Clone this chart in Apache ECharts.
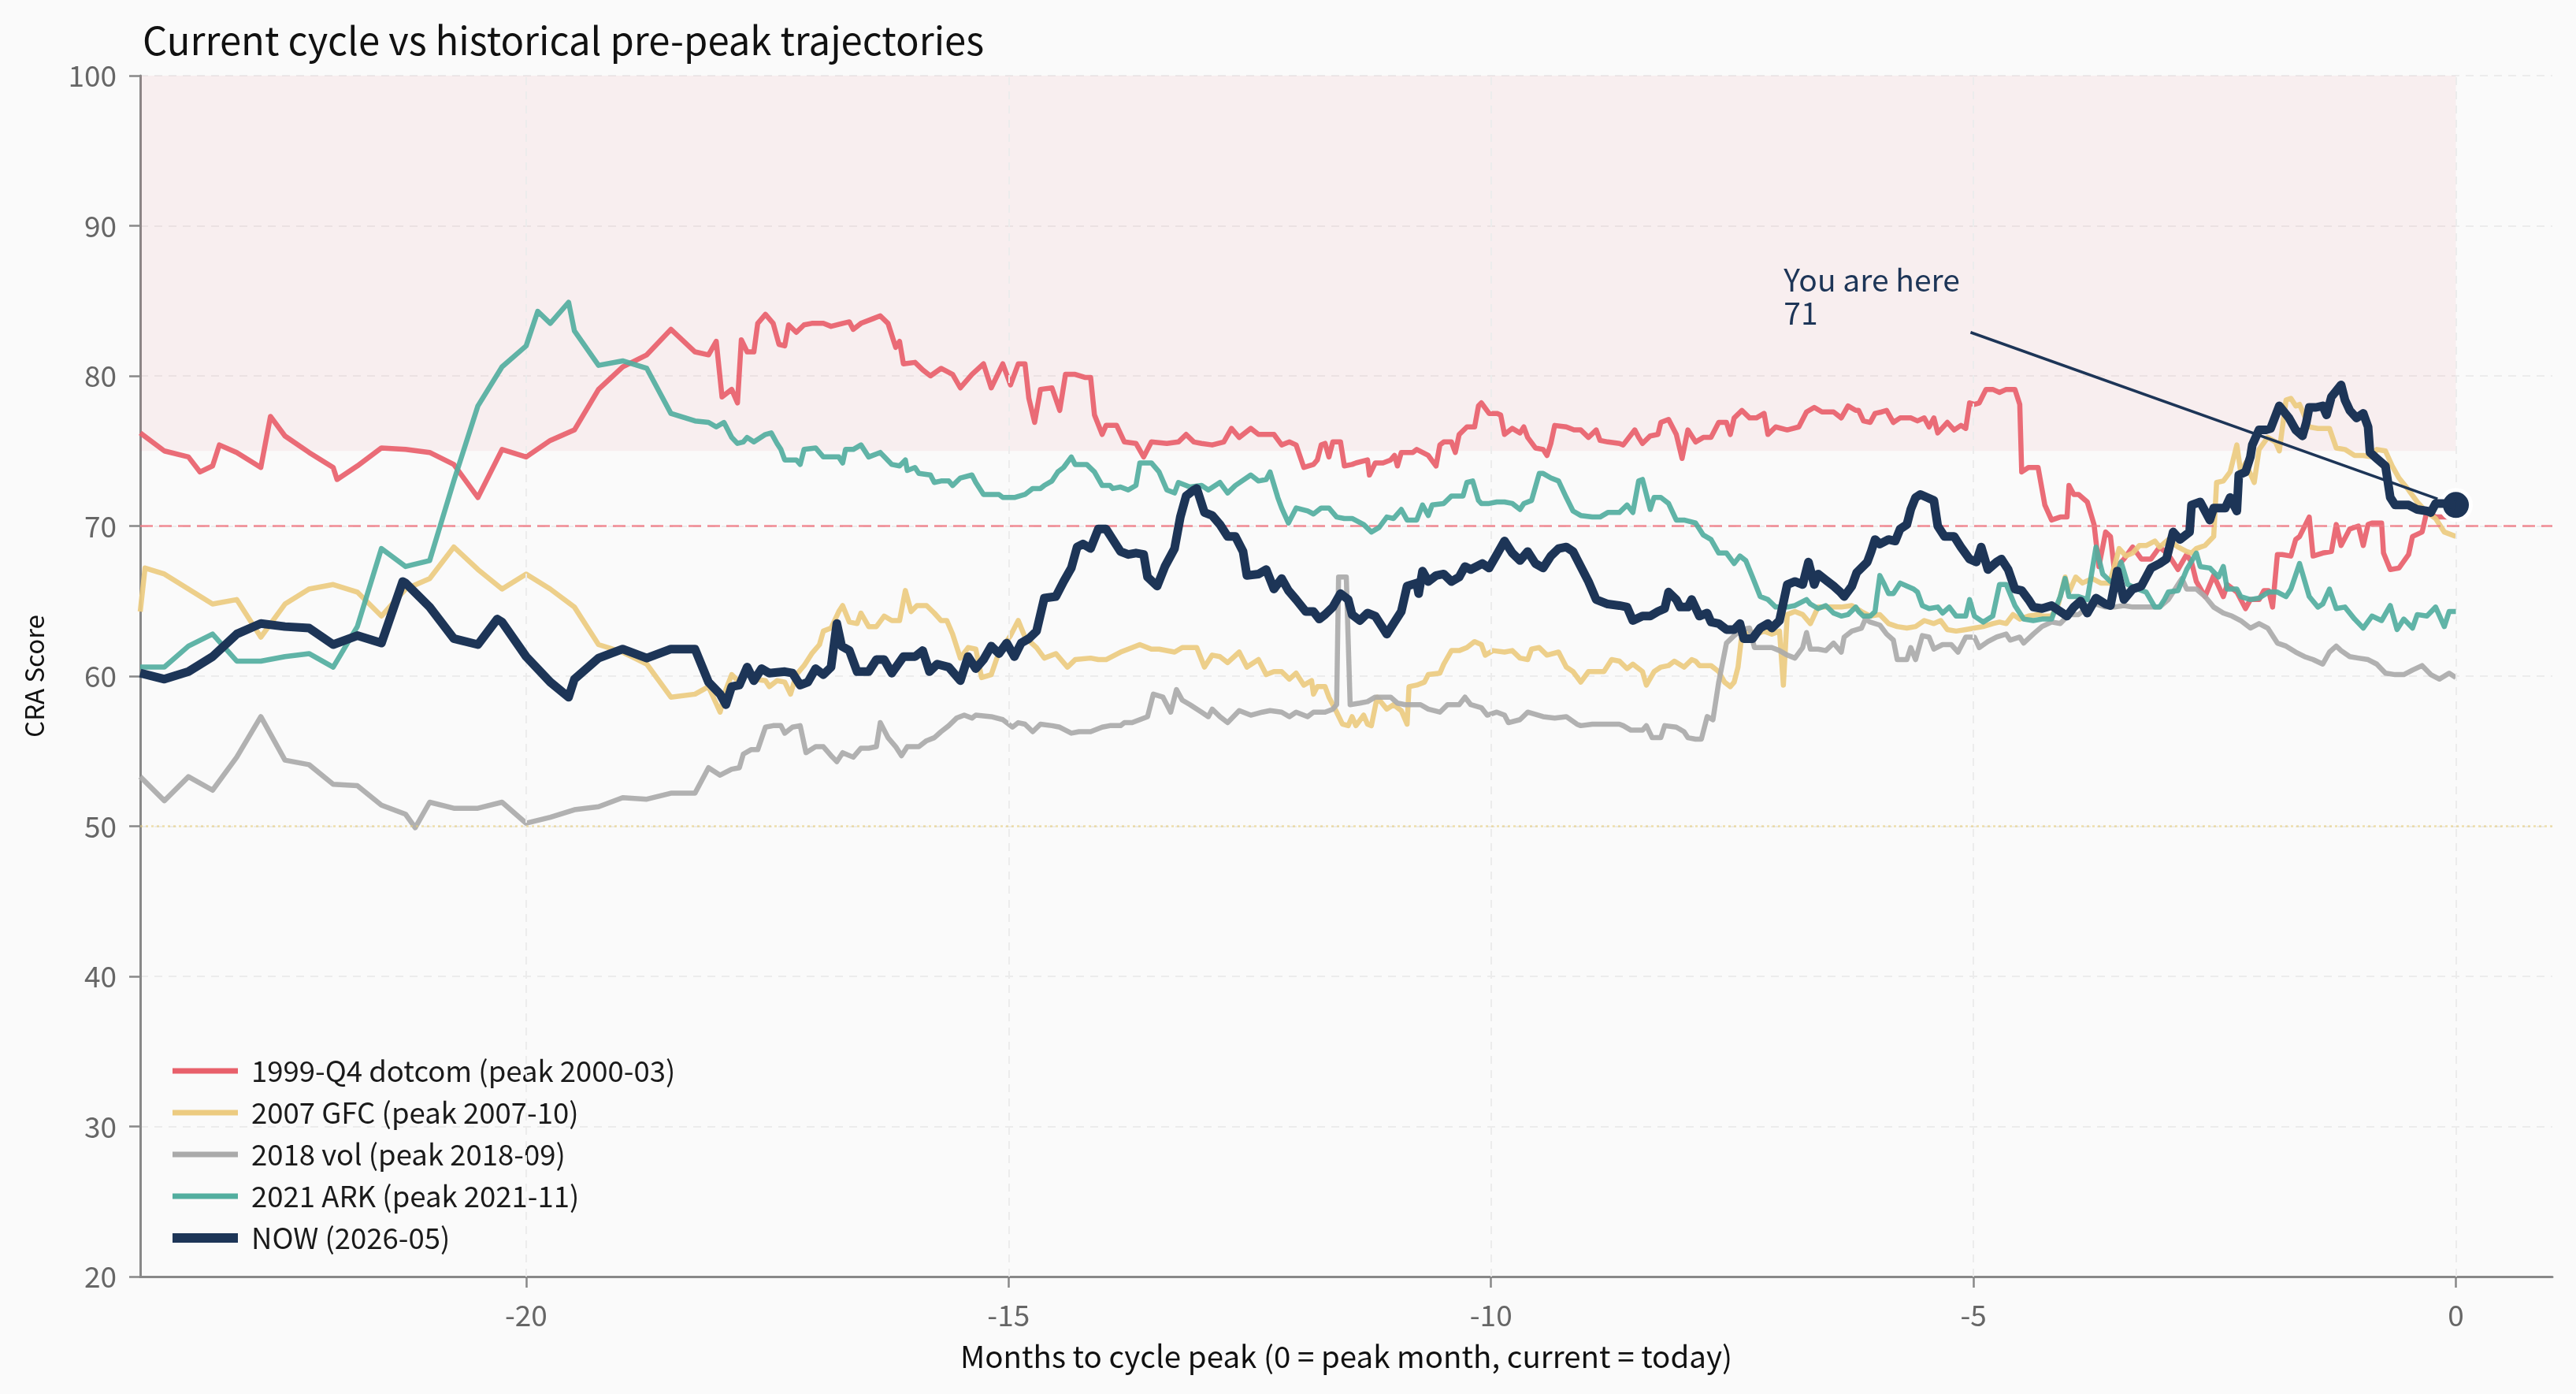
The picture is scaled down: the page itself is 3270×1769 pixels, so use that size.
<!DOCTYPE html>
<html>
<head>
<meta charset="utf-8">
<script src="https://cdn.jsdelivr.net/npm/echarts@6/dist/echarts.min.js"></script>
<style>
html,body{margin:0;padding:0;background:#fafafa;}
#c{width:3270px;height:1769px;}
</style>
</head>
<body>
<div id="c"></div>
<script>
// ---------- DATA ----------
// Early section read at quarter-month spacing (months to cycle peak)
const EARLY_MONTHS = [-24,-23.75,-23.5,-23.25,-23,-22.75,-22.5,-22.25,-22,-21.75,-21.5,-21.25,-21,-20.75,-20.5,-20.25,
  -20,-19.75,-19.5,-19.25,-19,-18.75,-18.5,-18.25];

const DOTCOM_EARLY = [76.2,75.0,74.6,74.0,74.9,73.9,76.0,74.9,73.9,74.0,75.2,75.1,74.9,74.1,71.9,75.1,
  74.6,75.7,76.4,79.1,80.6,81.4,83.1,81.6];
const DOTCOM_TRACE = [[-23.38,73.6],[-23.18,75.4],[-22.65,77.3],[-21.96,73.1],
  [-18.11,81.4],[-18.03,82.3],[-17.97,78.6],[-17.87,79.1],[-17.81,78.2],[-17.77,82.4],[-17.71,81.6],[-17.64,81.6],
  [-17.6,83.5],[-17.52,84.1],[-17.44,83.5],[-17.38,82.1],[-17.32,82.0],[-17.28,83.4],[-17.2,82.9],[-17.12,83.4],
  [-17.04,83.5],[-16.92,83.5],[-16.84,83.3],[-16.72,83.5],[-16.65,83.6],[-16.61,83.1],[-16.53,83.5],[-16.41,83.8],
  [-16.33,84.0],[-16.25,83.5],[-16.17,81.9],[-16.13,82.3],[-16.09,80.8],[-15.97,80.9],[-15.89,80.4],[-15.81,80.0],
  [-15.7,80.5],[-15.58,80.1],[-15.5,79.2],[-15.38,80.1],[-15.26,80.8],[-15.18,79.2],[-15.06,80.8],[-14.98,79.4],
  [-14.9,80.8],[-14.83,80.8],[-14.79,78.5],[-14.73,76.9],[-14.67,79.1],[-14.55,79.2],[-14.47,77.7],[-14.41,80.1],
  [-14.31,80.1],[-14.21,79.9],[-14.15,79.9],[-14.11,77.4],[-14.03,76.1],[-13.99,76.7],[-13.88,76.7],[-13.8,75.6],
  [-13.68,75.5],[-13.6,74.6],[-13.52,75.6],[-13.36,75.5],[-13.24,75.6],[-13.16,76.1],[-13.08,75.6],[-13.0,75.5],
  [-12.89,75.4],[-12.77,75.6],[-12.69,76.5],[-12.61,75.9],[-12.49,76.5],[-12.41,76.1],[-12.25,76.1],[-12.17,75.4],
  [-12.09,75.6],[-12.02,75.4],[-11.94,73.9],[-11.84,74.1],[-11.8,74.4],[-11.76,75.4],[-11.72,75.5],[-11.68,74.6],
  [-11.64,75.6],[-11.56,75.6],[-11.52,74.0],[-11.44,74.1],[-11.4,74.2],[-11.28,74.4],[-11.26,73.4],[-11.2,74.2],
  [-11.12,74.2],[-11.04,74.4],[-11.0,74.7],[-10.97,74.0],[-10.93,74.9],[-10.81,74.9],[-10.77,75.1],[-10.65,74.7],
  [-10.57,74.0],[-10.53,75.4],[-10.49,75.6],[-10.41,75.6],[-10.37,74.9],[-10.33,76.1],[-10.25,76.6],[-10.17,76.6],
  [-10.13,78.0],[-10.1,78.2],[-10.02,77.5],[-9.94,77.5],[-9.9,77.4],[-9.86,76.1],[-9.78,76.5],[-9.7,76.2],
  [-9.66,76.6],[-9.62,75.9],[-9.54,75.2],[-9.46,75.1],[-9.42,74.7],[-9.38,75.5],[-9.34,76.7],[-9.22,76.6],
  [-9.14,76.4],[-9.07,76.4],[-8.99,75.9],[-8.91,76.4],[-8.87,75.7],[-8.79,75.6],[-8.67,75.5],[-8.63,75.4],
  [-8.51,76.4],[-8.47,75.9],[-8.43,75.5],[-8.35,76.0],[-8.27,76.1],[-8.24,76.9],[-8.16,77.1],[-8.08,76.1],
  [-8.02,74.5],[-7.96,76.4],[-7.88,75.6],[-7.8,75.9],[-7.72,75.9],[-7.64,76.9],[-7.56,76.9],[-7.52,76.1],
  [-7.48,77.2],[-7.4,77.7],[-7.32,77.2],[-7.25,77.2],[-7.17,77.5],[-7.13,76.1],[-7.05,76.6],[-6.93,76.4],
  [-6.81,76.6],[-6.73,77.6],[-6.65,77.9],[-6.57,77.6],[-6.45,77.6],[-6.37,77.2],[-6.3,78.0],[-6.22,77.7],
  [-6.19,77.7],[-6.14,77.0],[-6.07,76.9],[-6.02,77.5],[-5.95,77.6],[-5.9,77.7],[-5.83,76.9],
  [-5.76,77.2],[-5.65,77.2],[-5.58,77.0],[-5.51,77.2],[-5.46,76.6],[-5.41,77.2],[-5.37,76.2],[-5.27,76.9],
  [-5.2,76.4],[-5.13,76.7],[-5.08,76.5],[-5.04,78.2],[-4.99,78.1],[-4.94,78.2],[-4.87,79.1],[-4.8,79.1],
  [-4.73,78.9],[-4.66,79.1],[-4.57,79.1],[-4.52,78.1],[-4.5,73.6],[-4.43,73.9],[-4.33,73.9],[-4.26,71.4],
  [-4.19,70.4],[-4.1,70.6],[-4.03,70.6],[-4.01,72.7],[-3.96,72.1],[-3.91,72.1],[-3.82,71.6],[-3.75,70.1],
  [-3.7,67.3],[-3.63,69.6],[-3.58,69.3],[-3.54,67.1],[-3.44,67.8],[-3.35,68.6],[-3.26,67.8],[-3.16,67.8],
  [-3.07,68.6],[-2.98,68.1],[-2.88,67.1],[-2.79,68.1],[-2.74,67.6],[-2.69,66.3],[-2.6,65.3],[-2.51,66.7],
  [-2.41,65.3],[-2.37,66.1],[-2.27,65.6],[-2.18,64.5],[-2.13,65.1],[-2.04,65.1],[-1.99,65.7],[-1.94,65.7],
  [-1.9,64.6],[-1.85,68.1],[-1.8,68.1],[-1.71,68.0],[-1.66,69.1],[-1.62,69.3],[-1.52,70.6],[-1.48,68.0],
  [-1.38,68.2],[-1.29,68.3],[-1.24,70.1],[-1.19,68.7],[-1.1,69.8],[-1.01,70.0],[-0.96,68.7],[-0.91,70.1],
  [-0.87,70.2],[-0.77,70.2],[-0.75,68.2],[-0.68,67.1],[-0.59,67.2],[-0.49,68.1],[-0.45,69.3],[-0.35,69.6],
  [-0.3,71.0],[-0.21,70.6],[-0.12,70.6],[0,70.6]];

const GFC_EARLY = [64.3,66.8,65.8,64.8,65.1,62.6,64.8,65.8,66.1,65.6,64.0,65.8,66.5,68.6,67.1,65.8,
  66.8,65.8,64.6,62.1,61.6,60.8,58.6,58.8];
const GFC_TRACE = [[-23.95,67.2],
  [-18.11,59.3],[-17.99,57.6],[-17.93,59.1],[-17.87,60.1],[-17.79,59.6],[-17.71,60.3],[-17.64,59.8],[-17.52,59.7],
  [-17.48,59.3],[-17.4,59.7],[-17.32,59.6],[-17.26,58.8],[-17.2,60.1],[-17.12,60.7],[-17.04,61.5],[-16.96,62.1],
  [-16.92,63.0],[-16.84,63.2],[-16.76,64.3],[-16.72,64.7],[-16.65,63.6],[-16.57,63.5],[-16.53,64.2],[-16.45,63.3],
  [-16.37,63.3],[-16.29,64.0],[-16.21,63.7],[-16.13,63.7],[-16.07,65.7],[-16.01,64.3],[-15.95,64.7],[-15.85,64.7],
  [-15.77,64.2],[-15.7,63.7],[-15.64,63.7],[-15.58,62.8],[-15.5,61.2],[-15.42,61.9],[-15.34,61.8],[-15.28,59.9],
  [-15.18,60.1],[-15.1,61.6],[-14.98,62.7],[-14.9,63.7],[-14.83,62.6],[-14.71,61.9],[-14.63,61.2],[-14.51,61.5],
  [-14.39,60.6],[-14.31,61.1],[-14.15,61.2],[-14.07,61.1],[-13.99,61.1],[-13.84,61.6],[-13.76,61.8],[-13.64,62.1],
  [-13.52,61.8],[-13.44,61.8],[-13.28,61.6],[-13.2,61.9],[-13.05,61.9],[-12.97,60.6],[-12.89,61.4],[-12.81,61.3],
  [-12.73,60.9],[-12.61,61.6],[-12.53,60.6],[-12.41,61.1],[-12.33,60.1],[-12.25,60.3],[-12.17,60.3],[-12.09,59.8],
  [-12.02,60.2],[-11.94,59.4],[-11.86,59.7],[-11.84,58.8],[-11.8,59.3],[-11.72,59.3],[-11.68,58.6],[-11.6,57.6],
  [-11.54,56.8],[-11.48,56.7],[-11.44,57.3],[-11.4,56.7],[-11.32,57.4],[-11.28,56.8],[-11.24,56.7],[-11.18,58.6],
  [-11.08,57.8],[-11.01,58.1],[-10.93,57.7],[-10.87,56.8],[-10.85,59.3],[-10.77,59.4],[-10.69,59.6],[-10.65,60.1],
  [-10.53,60.2],[-10.49,60.8],[-10.41,61.7],[-10.33,61.7],[-10.25,61.9],[-10.17,62.3],[-10.1,62.1],[-10.06,61.4],
  [-9.98,61.7],[-9.86,61.6],[-9.78,61.7],[-9.7,61.2],[-9.62,61.1],[-9.58,61.8],[-9.5,61.9],[-9.42,61.4],
  [-9.3,61.6],[-9.22,60.6],[-9.15,60.3],[-9.07,59.6],[-8.99,60.3],[-8.83,60.3],[-8.75,61.1],[-8.67,61.0],
  [-8.59,60.5],[-8.53,60.8],[-8.43,60.3],[-8.39,59.4],[-8.31,60.3],[-8.24,60.6],[-8.16,60.7],[-8.1,61.0],
  [-8.0,60.6],[-7.92,61.1],[-7.88,61.0],[-7.84,60.7],[-7.72,60.7],[-7.64,60.3],[-7.58,59.6],[-7.52,59.3],
  [-7.48,59.6],[-7.44,60.6],[-7.4,62.8],[-7.32,63.0],[-7.25,62.8],[-7.17,63.0],[-7.09,62.8],[-7.01,63.0],
  [-6.97,59.4],[-6.93,64.1],[-6.85,64.3],[-6.77,64.1],[-6.69,63.5],[-6.61,64.6],[-6.53,64.6],[-6.37,64.6],
  [-6.26,64.7],[-6.16,64.3],[-6.07,64.0],[-5.97,64.1],[-5.88,63.5],[-5.79,63.3],[-5.69,63.2],[-5.6,63.3],
  [-5.51,63.7],[-5.41,63.5],[-5.34,63.7],[-5.27,63.1],[-5.18,63.0],[-5.08,63.1],[-4.99,63.2],[-4.9,63.3],
  [-4.8,63.5],[-4.73,63.6],[-4.66,63.5],[-4.59,64.1],[-4.52,63.8],[-4.43,64.0],[-4.33,64.1],[-4.29,64.0],
  [-4.19,64.0],[-4.12,64.8],[-4.05,66.6],[-4.01,65.6],[-3.94,66.6],[-3.87,66.2],[-3.77,66.5],[-3.68,66.2],
  [-3.59,66.2],[-3.54,67.3],[-3.49,68.5],[-3.42,68.0],[-3.35,68.2],[-3.28,68.7],[-3.21,68.7],[-3.12,69.0],
  [-3.07,68.6],[-2.98,69.1],[-2.88,68.6],[-2.79,68.3],[-2.74,68.2],[-2.69,68.5],[-2.6,68.7],[-2.51,69.3],
  [-2.48,72.9],[-2.41,73.0],[-2.34,73.6],[-2.27,75.4],[-2.23,73.6],[-2.18,74.2],[-2.09,72.9],[-2.04,75.1],
  [-1.95,75.9],[-1.87,75.6],[-1.83,75.0],[-1.76,78.4],[-1.71,78.5],[-1.66,78.0],[-1.62,78.1],[-1.52,76.6],
  [-1.43,76.5],[-1.31,76.5],[-1.24,75.2],[-1.15,75.1],[-1.05,74.7],[-0.96,74.7],[-0.87,74.6],[-0.82,75.1],
  [-0.73,75.0],[-0.66,74.0],[-0.59,73.2],[-0.49,72.4],[-0.4,71.6],[-0.3,70.9],[-0.21,70.5],[-0.12,69.6],[0,69.3]];

const VOL_EARLY = [53.3,51.7,53.3,52.4,54.6,57.3,54.4,54.1,52.8,52.7,51.4,50.8,51.6,51.2,51.2,51.6,
  50.2,50.6,51.1,51.3,51.9,51.8,52.2,52.2];
const VOL_TRACE = [[-21.15,49.9],
  [-18.11,53.9],[-17.99,53.4],[-17.87,53.8],[-17.79,53.9],[-17.75,54.8],[-17.67,55.1],[-17.6,55.1],[-17.52,56.6],
  [-17.44,56.7],[-17.36,56.7],[-17.32,56.2],[-17.24,56.6],[-17.16,56.7],[-17.1,54.9],[-17.0,55.3],[-16.92,55.3],
  [-16.84,54.7],[-16.78,54.3],[-16.72,54.9],[-16.61,54.6],[-16.53,55.2],[-16.45,55.2],[-16.37,55.3],[-16.33,56.9],
  [-16.25,55.9],[-16.17,55.3],[-16.11,54.7],[-16.05,55.3],[-15.93,55.3],[-15.85,55.7],[-15.77,55.9],[-15.7,56.3],
  [-15.62,56.7],[-15.54,57.2],[-15.46,57.4],[-15.38,57.2],[-15.34,57.4],[-15.18,57.3],[-15.06,57.1],[-14.96,56.6],
  [-14.9,56.9],[-14.83,56.8],[-14.75,56.3],[-14.67,56.8],[-14.55,56.7],[-14.47,56.6],[-14.35,56.2],[-14.27,56.3],
  [-14.15,56.3],[-14.03,56.6],[-13.95,56.7],[-13.84,56.7],[-13.8,56.9],[-13.72,56.9],[-13.64,57.1],[-13.56,57.3],
  [-13.5,58.8],[-13.4,58.6],[-13.32,57.6],[-13.26,59.1],[-13.2,58.4],[-13.12,58.1],[-13.0,57.6],[-12.93,57.3],
  [-12.89,57.8],[-12.81,57.3],[-12.73,56.9],[-12.61,57.7],[-12.49,57.4],[-12.37,57.6],[-12.29,57.7],[-12.17,57.6],
  [-12.09,57.3],[-12.02,57.6],[-11.9,57.3],[-11.84,57.6],[-11.72,57.6],[-11.64,57.8],[-11.6,58.1],[-11.58,66.6],
  [-11.5,66.6],[-11.46,58.1],[-11.36,58.2],[-11.28,58.3],[-11.2,58.6],[-11.04,58.6],[-10.97,58.2],[-10.89,58.1],
  [-10.73,58.1],[-10.65,57.8],[-10.53,57.6],[-10.45,58.1],[-10.33,58.1],[-10.27,58.6],[-10.21,58.1],[-10.1,57.9],
  [-10.04,57.4],[-9.94,57.6],[-9.86,57.4],[-9.82,56.9],[-9.7,57.1],[-9.62,57.6],[-9.46,57.3],[-9.34,57.2],
  [-9.22,57.3],[-9.11,56.8],[-9.07,56.7],[-8.95,56.8],[-8.83,56.8],[-8.67,56.8],[-8.63,56.7],[-8.55,56.4],
  [-8.43,56.4],[-8.39,56.7],[-8.33,55.9],[-8.24,55.9],[-8.2,56.7],[-8.08,56.6],[-8.0,56.3],[-7.96,55.9],
  [-7.88,55.8],[-7.82,55.8],[-7.76,57.3],[-7.7,57.1],[-7.64,59.6],[-7.56,62.2],[-7.48,62.7],[-7.4,63.1],
  [-7.32,63.2],[-7.27,61.9],[-7.21,61.9],[-7.09,61.9],[-7.01,61.7],[-6.93,61.4],[-6.85,61.2],[-6.77,61.9],
  [-6.73,62.9],[-6.69,61.8],[-6.61,61.8],[-6.53,61.7],[-6.45,62.2],[-6.37,61.6],[-6.34,62.6],[-6.26,63.0],
  [-6.16,63.2],[-6.12,63.8],[-6.07,63.6],[-5.97,63.4],[-5.9,62.8],[-5.83,62.4],[-5.79,61.1],[-5.69,61.1],
  [-5.65,61.9],[-5.6,61.1],[-5.53,62.7],[-5.46,62.6],[-5.41,61.8],[-5.32,62.1],[-5.23,62.1],[-5.16,61.6],
  [-5.08,62.6],[-4.99,62.6],[-4.94,61.9],[-4.85,62.3],[-4.76,62.6],[-4.66,62.8],[-4.62,62.4],[-4.52,62.6],
  [-4.48,62.2],[-4.38,62.8],[-4.29,63.3],[-4.19,63.6],[-4.1,63.5],[-4.01,64.1],[-3.91,64.1],[-3.82,64.6],
  [-3.73,64.8],[-3.63,64.6],[-3.54,64.6],[-3.44,64.7],[-3.35,64.6],[-3.26,64.6],[-3.16,64.6],[-3.07,64.6],
  [-2.98,65.1],[-2.88,66.1],[-2.84,66.5],[-2.79,65.8],[-2.69,65.8],[-2.6,65.3],[-2.51,64.6],[-2.41,64.2],
  [-2.32,64.0],[-2.23,63.7],[-2.13,63.2],[-2.04,63.5],[-1.95,63.2],[-1.85,62.2],[-1.76,62.0],[-1.66,61.6],
  [-1.57,61.3],[-1.48,61.1],[-1.38,60.8],[-1.31,61.6],[-1.24,62.0],[-1.19,61.7],[-1.1,61.3],[-1.01,61.2],
  [-0.91,61.1],[-0.82,60.8],[-0.73,60.2],[-0.63,60.1],[-0.54,60.1],[-0.45,60.4],[-0.35,60.7],[-0.26,60.1],
  [-0.17,59.8],[-0.07,60.2],[0,59.9]];

const ARK_EARLY = [60.6,60.6,62.0,62.8,61.0,61.0,61.3,61.5,60.6,63.3,68.5,67.3,67.7,73.0,78.0,80.6,
  82.0,83.5,83.0,80.7,81.0,80.5,77.5,77.0];
const ARK_TRACE = [[-19.88,84.3],[-19.56,84.9],
  [-18.11,76.9],[-18.03,76.6],[-17.95,76.9],[-17.87,75.9],[-17.81,75.5],[-17.75,75.6],[-17.71,75.9],[-17.64,75.6],
  [-17.52,76.1],[-17.46,76.2],[-17.4,75.5],[-17.36,75.1],[-17.32,74.4],[-17.2,74.4],[-17.16,74.1],[-17.12,75.1],
  [-17.0,75.2],[-16.92,74.6],[-16.76,74.6],[-16.72,74.2],[-16.69,75.1],[-16.61,75.1],[-16.53,75.4],[-16.45,74.6],
  [-16.33,74.9],[-16.21,74.1],[-16.13,74.0],[-16.07,74.4],[-16.05,73.7],[-15.97,73.9],[-15.93,73.5],[-15.81,73.4],
  [-15.77,72.9],[-15.7,73.0],[-15.62,73.0],[-15.58,72.7],[-15.5,73.2],[-15.38,73.4],[-15.34,72.9],[-15.26,72.1],
  [-15.1,72.1],[-15.06,71.9],[-14.94,71.9],[-14.83,72.1],[-14.75,72.5],[-14.67,72.5],[-14.63,72.7],[-14.55,73.0],
  [-14.49,73.6],[-14.43,73.9],[-14.35,74.6],[-14.31,74.1],[-14.19,74.1],[-14.11,73.6],[-14.03,72.7],[-13.95,72.7],
  [-13.92,72.5],[-13.84,72.6],[-13.76,72.4],[-13.68,72.7],[-13.64,74.2],[-13.52,74.2],[-13.44,73.6],[-13.36,72.4],
  [-13.28,72.2],[-13.24,72.9],[-13.12,72.6],[-13.0,72.7],[-12.93,72.4],[-12.81,72.9],[-12.73,72.2],[-12.65,72.7],
  [-12.49,73.4],[-12.41,73.0],[-12.33,73.1],[-12.29,73.6],[-12.21,71.9],[-12.17,71.2],[-12.1,70.2],[-12.02,71.2],
  [-11.9,71.0],[-11.84,70.8],[-11.76,71.2],[-11.68,71.2],[-11.6,70.6],[-11.52,70.5],[-11.44,70.5],[-11.32,70.1],
  [-11.24,69.6],[-11.16,69.9],[-11.08,70.6],[-11.01,70.5],[-10.93,71.1],[-10.87,70.4],[-10.77,70.4],[-10.71,71.4],
  [-10.65,70.7],[-10.61,71.4],[-10.49,71.5],[-10.41,72.0],[-10.29,72.0],[-10.25,72.9],[-10.19,73.0],[-10.13,71.7],
  [-10.1,71.5],[-10.02,71.5],[-9.94,71.6],[-9.86,71.6],[-9.78,71.5],[-9.7,71.1],[-9.66,71.5],[-9.58,71.7],
  [-9.5,73.5],[-9.46,73.5],[-9.38,73.2],[-9.3,73.0],[-9.22,71.9],[-9.15,71.0],[-9.07,70.7],[-8.95,70.6],
  [-8.87,70.6],[-8.79,70.9],[-8.67,70.9],[-8.59,71.4],[-8.53,70.9],[-8.47,73.0],[-8.43,73.1],[-8.35,71.1],
  [-8.31,71.9],[-8.24,71.9],[-8.16,71.5],[-8.08,70.4],[-8.0,70.4],[-7.88,70.2],[-7.8,69.4],[-7.72,69.1],
  [-7.64,68.2],[-7.56,68.2],[-7.48,67.5],[-7.42,68.0],[-7.36,67.7],[-7.29,66.6],[-7.21,65.3],[-7.13,65.1],
  [-7.05,64.6],[-6.93,64.6],[-6.85,64.7],[-6.73,65.1],[-6.69,64.8],[-6.61,64.5],[-6.53,64.7],[-6.45,64.2],
  [-6.37,64.0],[-6.3,64.1],[-6.22,64.6],
  [-6.19,64.3],[-6.14,64.0],[-6.07,64.0],[-6.02,64.3],[-6.0,65.3],[-5.97,66.7],[-5.93,66.2],[-5.88,65.5],
  [-5.83,65.5],[-5.76,66.2],[-5.69,66.0],[-5.62,65.8],[-5.58,65.6],[-5.53,64.7],[-5.46,64.5],[-5.37,64.6],
  [-5.32,64.2],[-5.25,64.6],[-5.18,64.0],[-5.08,64.0],[-5.04,65.1],[-4.99,64.0],[-4.9,63.6],[-4.8,64.0],
  [-4.73,66.1],[-4.66,66.1],[-4.57,64.7],[-4.48,63.8],[-4.38,63.7],[-4.29,63.8],[-4.19,63.8],[-4.15,64.5],
  [-4.1,65.3],[-4.05,66.5],[-4.01,65.3],[-3.91,65.3],[-3.82,65.1],[-3.73,68.6],[-3.66,66.8],[-3.58,66.3],
  [-3.54,66.3],[-3.47,67.6],[-3.4,66.1],[-3.3,65.8],[-3.21,65.6],[-3.12,64.6],[-3.07,64.6],[-3.02,65.1],
  [-2.98,65.6],[-2.88,65.7],[-2.79,67.1],[-2.69,68.2],[-2.65,67.3],[-2.55,67.2],[-2.46,66.6],[-2.41,67.3],
  [-2.37,65.8],[-2.27,65.8],[-2.23,65.3],[-2.13,65.1],[-2.04,65.2],[-1.94,65.6],[-1.85,65.6],[-1.76,65.3],
  [-1.71,65.8],[-1.62,67.5],[-1.52,65.3],[-1.43,64.6],[-1.38,64.8],[-1.31,65.8],[-1.24,64.5],[-1.15,64.6],
  [-1.05,63.8],[-0.96,63.2],[-0.87,64.0],[-0.77,63.7],[-0.68,64.7],[-0.61,63.1],[-0.54,63.8],[-0.45,63.2],
  [-0.4,64.1],[-0.3,64.0],[-0.21,64.6],[-0.12,63.3],[-0.07,64.3],[0,64.3]];

const NOW_EARLY = [60.2,59.8,60.3,61.3,62.8,63.5,63.3,63.2,62.1,62.7,62.2,66.2,64.6,62.5,62.1,63.6,
  61.3,59.6,59.8,61.2,61.8,61.2,61.8,61.8];
const NOW_TRACE = [[-21.28,66.3],[-20.3,63.8],[-19.56,58.6],
  [-18.11,59.6],[-17.99,58.8],[-17.93,58.1],[-17.87,59.3],[-17.79,59.4],[-17.71,60.6],[-17.64,59.7],[-17.56,60.5],
  [-17.48,60.2],[-17.32,60.3],[-17.24,60.2],[-17.16,59.4],[-17.08,59.6],[-17.0,60.5],[-16.92,60.1],[-16.84,60.6],
  [-16.78,63.5],[-16.73,62.0],[-16.65,61.7],[-16.57,60.3],[-16.45,60.3],[-16.37,61.1],[-16.29,61.1],[-16.21,60.2],
  [-16.09,61.3],[-15.97,61.3],[-15.89,61.7],[-15.82,60.3],[-15.74,60.8],[-15.62,60.6],[-15.5,59.7],[-15.42,61.3],
  [-15.34,60.5],[-15.26,61.1],[-15.18,62.0],[-15.1,61.5],[-15.02,62.2],[-14.94,61.3],[-14.87,62.2],[-14.79,62.5],
  [-14.71,63.0],[-14.63,65.2],[-14.51,65.3],[-14.43,66.3],[-14.35,67.2],[-14.29,68.6],[-14.23,68.8],[-14.15,68.5],
  [-14.07,69.8],[-13.99,69.8],[-13.92,69.1],[-13.84,68.3],[-13.76,68.1],[-13.68,68.2],[-13.6,68.1],[-13.56,66.6],
  [-13.46,66.0],[-13.38,67.3],[-13.28,68.5],[-13.22,70.6],[-13.16,72.0],[-13.08,72.4],[-13.05,72.5],[-12.97,70.9],
  [-12.89,70.7],[-12.81,70.1],[-12.73,69.3],[-12.65,69.3],[-12.57,68.3],[-12.53,66.7],[-12.41,66.8],[-12.33,67.1],
  [-12.25,65.8],[-12.17,66.5],[-12.1,65.7],[-12.02,65.1],[-11.92,64.3],[-11.84,64.3],[-11.78,63.8],[-11.72,64.1],
  [-11.64,64.6],[-11.56,65.5],[-11.48,65.1],[-11.44,64.1],[-11.36,63.7],[-11.28,64.2],[-11.2,64.0],[-11.12,63.2],
  [-11.08,62.8],[-11.01,63.5],[-10.93,64.3],[-10.87,66.0],[-10.77,66.2],[-10.75,65.5],[-10.71,67.0],[-10.65,66.3],
  [-10.57,66.7],[-10.49,66.8],[-10.41,66.3],[-10.33,66.6],[-10.27,67.3],[-10.21,67.1],[-10.09,67.5],[-10.02,67.2],
  [-9.94,68.1],[-9.86,69.0],[-9.78,68.2],[-9.7,67.7],[-9.62,68.3],[-9.54,67.5],[-9.46,67.2],[-9.38,68.0],
  [-9.3,68.5],[-9.22,68.6],[-9.15,68.3],[-9.11,67.8],[-9.03,66.8],[-8.99,66.3],[-8.91,65.1],[-8.79,64.8],
  [-8.67,64.7],[-8.59,64.6],[-8.53,63.7],[-8.43,64.0],[-8.35,64.0],[-8.27,64.3],[-8.2,64.5],[-8.16,65.6],
  [-8.08,65.1],[-8.04,64.6],[-7.96,64.6],[-7.92,65.1],[-7.84,64.0],[-7.76,64.2],[-7.72,63.6],[-7.64,63.5],
  [-7.56,63.1],[-7.48,63.1],[-7.42,63.5],[-7.38,62.5],[-7.29,62.5],[-7.21,63.2],[-7.13,63.5],[-7.09,63.2],
  [-7.01,63.7],[-6.93,66.1],[-6.85,66.3],[-6.77,66.1],[-6.71,67.6],[-6.65,66.1],[-6.61,66.8],[-6.53,66.4],
  [-6.45,66.0],[-6.38,65.6],[-6.34,65.3],[-6.26,66.0],[-6.21,66.9],[-6.1,67.6],[-6.06,68.3],[-6.02,69.1],
  [-5.97,68.8],[-5.88,69.1],[-5.81,69.0],[-5.76,69.8],[-5.69,70.1],[-5.65,71.1],[-5.6,71.9],[-5.55,72.1],
  [-5.48,71.9],[-5.41,71.7],[-5.37,70.0],[-5.3,69.3],[-5.2,69.3],[-5.13,68.6],[-5.04,67.8],[-4.97,67.6],
  [-4.92,68.6],[-4.85,67.1],[-4.76,67.6],[-4.71,67.8],[-4.64,67.1],[-4.57,65.8],[-4.5,65.7],[-4.43,65.1],
  [-4.38,64.6],[-4.29,64.5],[-4.19,64.7],[-4.1,64.3],[-4.03,64.0],[-3.96,64.6],[-3.89,65.0],[-3.82,64.2],
  [-3.73,65.2],[-3.63,64.8],[-3.58,64.7],[-3.51,67.0],[-3.44,65.1],[-3.35,65.8],[-3.26,66.0],[-3.21,66.6],
  [-3.16,67.2],[-3.07,67.5],[-3.0,67.8],[-2.93,69.6],[-2.86,69.1],[-2.76,69.6],[-2.74,71.4],[-2.65,71.6],
  [-2.55,70.4],[-2.51,71.2],[-2.39,71.2],[-2.34,71.9],[-2.27,71.0],[-2.25,73.4],[-2.18,73.6],[-2.13,74.6],
  [-2.11,75.4],[-2.04,76.4],[-1.97,76.4],[-1.92,76.5],[-1.83,78.0],[-1.73,77.2],[-1.66,76.4],[-1.59,76.0],
  [-1.55,76.9],[-1.52,77.9],[-1.45,77.9],[-1.38,78.0],[-1.34,77.4],[-1.29,78.6],[-1.19,79.4],[-1.15,78.4],
  [-1.1,77.7],[-1.03,77.2],[-0.96,77.5],[-0.91,76.6],[-0.89,74.9],[-0.82,74.5],[-0.73,74.0],[-0.68,71.9],
  [-0.63,71.4],[-0.54,71.4],[-0.49,71.4],[-0.4,71.1],[-0.3,71.0],[-0.26,70.9],[-0.21,71.5],[-0.12,71.5],[0,71.4]];

const SERIES_NAMES = ['1999-Q4 dotcom (peak 2000-03)','2007 GFC (peak 2007-10)','2018 vol (peak 2018-09)','2021 ARK (peak 2021-11)','NOW (2026-05)'];
const CURRENT_POINT = [0, 71.4];
const CURRENT_LABEL = 'You are here\n71';
const LABEL_POS = [-6.97, 85.3];
const ARROW_FROM = [-5.03, 82.9];
const ARROW_TO = [-0.19, 71.8];
const X_TICKS = [-20, -15, -10, -5, 0];
const DANGER_BAND = [75, 100];
const HOT_LINE = 70;
const COLD_LINE = 50;

// ---------- CHART ----------
const FONT = "'Noto Sans CJK KR','Noto Sans',sans-serif";
const COLORS = ['#e8606b', '#eccb80', '#aaaaaa', '#52ae9f', '#1d3557'];
const HIST_W = 6.5, NOW_W = 11;

function build(early, trace) {
  return early.map((v, i) => [EARLY_MONTHS[i], v]).concat(trace).sort((a, b) => a[0] - b[0]);
}

const chart = echarts.init(document.getElementById('c'), null, {renderer: 'canvas'});
const histStyle = (c) => ({color: c, width: HIST_W, opacity: 0.92, join: 'round'});

const option = {
  backgroundColor: '#fafafa',
  animation: false,
  title: {
    text: 'Current cycle vs historical pre-peak trajectories',
    left: 176, top: 22,
    textStyle: {fontFamily: FONT, fontSize: 49, fontWeight: 'normal', color: '#111'}
  },
  grid: {left: 178, right: 30, top: 96, bottom: 149, containLabel: false},
  legend: {
    data: SERIES_NAMES.map((n, i) => ({name: n, lineStyle: {width: i === 4 ? 12 : 7, opacity: 1}})),
    orient: 'vertical',
    left: 208, top: 1334,
    itemWidth: 83, itemHeight: 14, itemGap: 13,
    itemStyle: {opacity: 0},
    textStyle: {fontFamily: FONT, fontSize: 36.5, color: '#1a1a1a', lineHeight: 40, padding: [0, 0, 0, 12]}
  },
  xAxis: {
    type: 'value', min: -24, max: 1,
    name: 'Months to cycle peak (0 = peak month, current = today)',
    nameLocation: 'middle', nameGap: 82,
    nameTextStyle: {fontFamily: FONT, fontSize: 38.5, color: '#111'},
    axisLine: {show: true, onZero: false, lineStyle: {color: '#888', width: 3}},
    axisTick: {show: true, customValues: X_TICKS, length: 14, lineStyle: {color: '#888', width: 2.5}},
    axisLabel: {customValues: X_TICKS, fontFamily: FONT, fontSize: 37, color: '#666', margin: 30},
    splitLine: {show: false}
  },
  yAxis: {
    type: 'value', min: 20, max: 100, interval: 10,
    name: 'CRA Score',
    nameLocation: 'middle', nameGap: 118,
    nameTextStyle: {fontFamily: FONT, fontSize: 33, color: '#111'},
    axisLine: {show: true, onZero: false, lineStyle: {color: '#888', width: 3}},
    axisTick: {show: true, length: 14, lineStyle: {color: '#888', width: 2.5}},
    axisLabel: {fontFamily: FONT, fontSize: 37, color: '#666', margin: 30},
    splitLine: {show: true, lineStyle: {color: '#ececec', width: 2, type: [10, 8]}}
  },
  series: [
    {
      name: '_bg', type: 'line', data: [], z: 1, silent: true,
      markArea: {
        silent: true,
        itemStyle: {color: 'rgba(232,96,107,0.075)'},
        data: [[{coord: [EARLY_MONTHS[0], DANGER_BAND[0]]}, {coord: [X_TICKS[X_TICKS.length - 1], DANGER_BAND[1]]}]]
      },
      markLine: {
        silent: true, symbol: ['none', 'none'], animation: false,
        label: {show: false},
        data: X_TICKS.map(x => ({xAxis: x, lineStyle: {color: '#ececec', width: 2, type: [10, 8]}})).concat([
          {yAxis: HOT_LINE, lineStyle: {color: 'rgba(238,120,130,0.85)', width: 2.5, type: [16, 8]}},
          {yAxis: COLD_LINE, lineStyle: {color: 'rgba(230,205,120,0.6)', width: 2.5, type: [3, 4]}}
        ])
      }
    },
    {name: SERIES_NAMES[0], type: 'line', data: build(DOTCOM_EARLY, DOTCOM_TRACE), symbol: 'none', z: 2, lineStyle: histStyle(COLORS[0]), itemStyle: {color: COLORS[0]}},
    {name: SERIES_NAMES[1], type: 'line', data: build(GFC_EARLY, GFC_TRACE), symbol: 'none', z: 3, lineStyle: histStyle(COLORS[1]), itemStyle: {color: COLORS[1]}},
    {name: SERIES_NAMES[2], type: 'line', data: build(VOL_EARLY, VOL_TRACE), symbol: 'none', z: 4, lineStyle: histStyle(COLORS[2]), itemStyle: {color: COLORS[2]}},
    {name: SERIES_NAMES[3], type: 'line', data: build(ARK_EARLY, ARK_TRACE), symbol: 'none', z: 5, lineStyle: histStyle(COLORS[3]), itemStyle: {color: COLORS[3]}},
    {
      name: SERIES_NAMES[4], type: 'line', data: build(NOW_EARLY, NOW_TRACE), symbol: 'none', z: 6,
      lineStyle: {color: COLORS[4], width: NOW_W, join: 'round'}, itemStyle: {color: COLORS[4]},
      markLine: {
        silent: true, symbol: ['none', 'arrow'], symbolSize: [0, 18],
        label: {show: false},
        lineStyle: {color: COLORS[4], width: 3.5, type: 'solid'},
        data: [[{coord: ARROW_FROM}, {coord: ARROW_TO}]]
      },
      markPoint: {
        silent: true,
        data: [
          {coord: CURRENT_POINT, symbol: 'circle', symbolSize: 38,
           itemStyle: {color: COLORS[4], borderColor: '#ffffff', borderWidth: 5},
           label: {show: false}},
          {coord: LABEL_POS, symbol: 'circle', symbolSize: 1,
           itemStyle: {color: 'rgba(0,0,0,0)'},
           label: {show: true, position: 'right', distance: 0, formatter: CURRENT_LABEL,
                   fontFamily: FONT, fontSize: 39, lineHeight: 42, color: COLORS[4], align: 'left'}}
        ]
      }
    }
  ]
};
chart.setOption(option);
</script>
</body>
</html>
